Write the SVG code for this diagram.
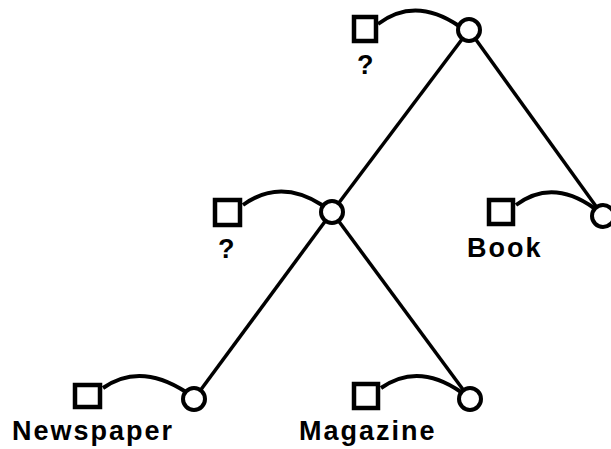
<svg xmlns="http://www.w3.org/2000/svg" width="611" height="449" viewBox="0 0 611 449">
<style>
.sq{fill:#fff;stroke:#000;stroke-width:4.5}
.ci{fill:#fff;stroke:#000;stroke-width:4}
.arc{fill:none;stroke:#000;stroke-width:4}
.ln{stroke:#000;stroke-width:3.5}
text{font-family:"Liberation Sans",Arial,sans-serif;font-weight:bold;font-size:27px;letter-spacing:2px;fill:#000}
</style>
<rect width="611" height="449" fill="#fff"/>
<g id="connectors">
<line class="ln" x1="469" y1="30" x2="332" y2="212"/>
<line class="ln" x1="469" y1="30" x2="603" y2="216"/>
<line class="ln" x1="332" y1="212" x2="194" y2="399"/>
<line class="ln" x1="332" y1="212" x2="470" y2="399"/>
</g>
<g id="root">
<path class="arc" d="M378,24 Q415,-4 459,26"/>
<rect class="sq" x="354" y="17" width="22" height="24"/>
<circle class="ci" cx="469" cy="30" r="11"/>
<text x="357" y="74">?</text>
</g>
<g id="mid">
<path class="arc" d="M243,205 Q280,178 322,205"/>
<rect class="sq" x="215" y="200" width="25" height="25"/>
<circle class="ci" cx="332" cy="212" r="11"/>
<text x="218" y="258">?</text>
</g>
<g id="book">
<path class="arc" d="M516,205 Q552,178 594,208"/>
<rect class="sq" x="489" y="200" width="24" height="24"/>
<circle class="ci" cx="603" cy="216" r="11"/>
<text x="467" y="257">Book</text>
</g>
<g id="newspaper">
<path class="arc" d="M103,388 Q140,362 186,392"/>
<rect class="sq" x="75" y="385" width="25" height="22"/>
<circle class="ci" cx="194" cy="399" r="11"/>
<text x="12" y="440">Newspaper</text>
</g>
<g id="magazine">
<path class="arc" d="M381,388 Q418,362 461,392"/>
<rect class="sq" x="354" y="384" width="24" height="24"/>
<circle class="ci" cx="470" cy="399" r="11"/>
<text x="299" y="440">Magazine</text>
</g>
</svg>
